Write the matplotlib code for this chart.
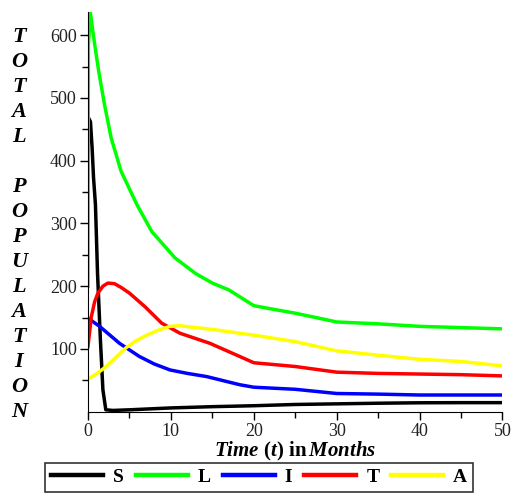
import numpy as np
import matplotlib
matplotlib.use('Agg')
import matplotlib.pyplot as plt

plt.rcParams['font.family'] = ['Liberation Serif', 'DejaVu Serif']
plt.rcParams['mathtext.fontset'] = 'custom'
plt.rcParams['mathtext.it'] = 'Liberation Serif:italic:bold'
plt.rcParams['mathtext.rm'] = 'Liberation Serif:bold'
plt.rcParams['mathtext.bf'] = 'Liberation Serif:bold'

# S - black
t_S = [0, 0.3, 0.5, 0.67, 0.9, 1.0, 1.15, 1.5, 1.8, 2.15, 3, 5, 10, 15, 20, 25, 30, 35, 40, 45, 50]
S = [470, 462, 420, 373, 330, 287, 221, 114, 35, 3, 2, 3, 6, 8, 9.5, 11.5, 12.5, 13.5, 14.2, 14.4, 14.4]

# L - green
t_L = [0, 0.05, 0.3, 0.7, 1.3, 2.0, 2.8, 4.0, 5.9, 7.7, 10.5, 13, 15, 17, 20, 22, 25, 30, 35, 40, 45, 50]
L = [200, 585, 635, 595, 542, 489, 436, 383, 330, 287, 245, 220, 205, 194, 169, 164, 157, 143, 140, 136, 134, 132]

# I - blue
t_I = [0, 1.4, 3.8, 6.2, 8, 9.9, 12, 14.3, 18.3, 20, 25, 30, 35, 40, 45, 50]
I = [149, 136, 109, 88, 76, 66.5, 61, 56, 43, 39, 35.7, 29, 28, 26.6, 26.6, 26.6]

# T - red
t_T = [0, 0.4, 0.8, 1.2, 1.8, 2.4, 3.2, 4, 5, 6.9, 8.9, 11.1, 14.7, 18.3, 20, 25, 30, 35, 40, 45, 50]
T = [104, 151, 175, 189, 200, 205, 204, 198, 189, 167, 141, 125, 109, 88, 78, 72, 63, 61, 60, 59, 57]

# A - yellow
t_A = [0, 1, 2.2, 3.4, 4.6, 5.8, 7.1, 8.5, 9.9, 11.1, 13, 15.1, 18.3, 20, 25, 30, 35, 40, 45, 50]
A = [52, 60, 72, 87, 102, 113, 122, 130, 136, 137, 134, 131, 125, 122, 111.6, 97, 90, 83.5, 80, 73]

series = [
    (t_S, S, 'black', 'S'),
    (t_L, L, '#00ff00', 'L'),
    (t_I, I, '#0000ff', 'I'),
    (t_T, T, '#ff0000', 'T'),
    (t_A, A, '#ffff00', 'A'),
]

ylabel_letters = list('TOTAL') + [''] + list('POPULATION')

fig = plt.figure(figsize=(5.13, 4.95), dpi=100)
ax = fig.add_axes([0.1715, 0.1683, 0.808, 0.8075])

for tt, vv, col, lab in series:
    ax.plot(tt, vv, color=col, lw=2.5, label=lab)

ax.set_xlim(0, 50)
ax.set_ylim(0, 637)
ax.set_xticks([0, 10, 20, 30, 40, 50])
ax.set_xticks(np.arange(5, 50, 10), minor=True)
ax.set_yticks([100, 200, 300, 400, 500, 600])
ax.set_yticks(np.arange(50, 637, 100), minor=True)
ax.spines['top'].set_visible(False)
ax.spines['right'].set_visible(False)
ax.tick_params(which='major', length=6, width=1, labelsize=13, pad=2)
ax.tick_params(which='minor', length=4, width=1)
for lbl in ax.get_xticklabels() + ax.get_yticklabels():
    lbl.set_color('#222222')

ax.set_xlabel(r'$\mathit{Time}\ (\mathit{t})\ \mathrm{in}\,\mathit{Months}$',
              fontsize=15, labelpad=0)

for i, ch in enumerate(ylabel_letters):
    fig.text(0.037, 1 - (37 + 25 * i) / 495, ch, ha='center', va='center',
             fontsize=16, fontweight='bold', fontstyle='italic')

leg = fig.legend(loc='lower center', bbox_to_anchor=(0.505, 0.006), ncol=5,
                 frameon=True, fancybox=False, edgecolor='black',
                 handlelength=2.7, handletextpad=0.5, columnspacing=0.6,
                 borderpad=0.3, borderaxespad=0,
                 prop={'size': 14, 'weight': 'bold'})
leg.get_frame().set_linewidth(1.2)
for line in leg.get_lines():
    line.set_linewidth(3.2)

fig.savefig('out.png', dpi=100)
